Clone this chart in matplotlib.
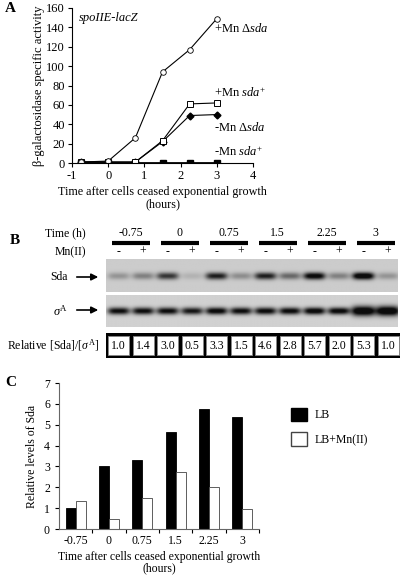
import numpy as np
import matplotlib
matplotlib.use("Agg")
import matplotlib.pyplot as plt
from matplotlib.patches import Rectangle, Patch

plt.rcParams["font.family"] = ["Liberation Serif", "DejaVu Serif"]
plt.rcParams["mathtext.fontset"] = "custom"
plt.rcParams["mathtext.rm"] = "Liberation Serif"
plt.rcParams["mathtext.it"] = "Liberation Serif:italic"
plt.rcParams["axes.unicode_minus"] = False
plt.rcParams["font.size"] = 8.5

# panel A data
time_a = [-0.75, 0, 0.75, 1.5, 2.25, 3]
mn_dsda = [1, 2, 26, 94, 117, 149]
mn_sda = [1, 1, 1, 23, 61, 62]
nomn_dsda = [1, 1, 1, 22, 49, 50]
nomn_sda = [0.5, 0.5, 0.5, 0.5, 0.5, 0.5]

# panel B data
times_b = ["-0.75", "0", "0.75", "1.5", "2.25", "3"]
mn_signs = ["-", "+"] * 6
rel_ratio = ["1.0", "1.4", "3.0", "0.5", "3.3", "1.5", "4.6", "2.8", "5.7", "2.0", "5.3", "1.0"]
sda_band = [0.22, 0.3, 0.6, 0.1, 0.7, 0.25, 0.7, 0.4, 0.85, 0.3, 0.95, 0.22]
sig_band = [0.8, 0.8, 0.8, 0.75, 0.85, 0.8, 0.82, 0.82, 0.88, 0.85, 1.0, 1.0]

# panel C data
cats_c = ["-0.75", "0", "0.75", "1.5", "2.25", "3"]
lb = [1.0, 3.0, 3.33, 4.65, 5.75, 5.35]
lb_mn = [1.35, 0.5, 1.47, 2.75, 2.0, 0.95]

W, H = 400, 576
fig = plt.figure(figsize=(4, 5.76), dpi=100)


def box(l, t, r, b):
    return [l / W, 1 - b / H, (r - l) / W, (b - t) / H]


# ---------- A ----------
ax = fig.add_axes(box(72, 8, 253, 163))
ax.plot(time_a, nomn_sda, "-s", color="k", lw=2, ms=4.5, mfc="k")
ax.plot(time_a, nomn_dsda, "-D", color="k", lw=0.8, ms=3.5, mfc="k")
ax.plot(time_a, mn_sda, "-s", color="k", lw=0.8, ms=5, mfc="white", mew=0.7)
ax.plot(time_a, mn_dsda, "-o", color="k", lw=0.8, ms=4, mfc="white", mew=0.6)
ax.set_xlim(-1, 4)
ax.set_ylim(0, 160)
ax.set_xticks(range(-1, 5))
ax.set_yticks(range(0, 161, 20))
for s in ["top", "right"]:
    ax.spines[s].set_visible(False)
ax.tick_params(length=3, width=0.8, labelsize=9, pad=2)
ax.set_ylabel("β-galactosidase specific activity", fontsize=9, labelpad=1)
ax.set_xlabel("Time after cells ceased exponential growth\n(hours)", fontsize=8.7,
              labelpad=3, linespacing=1.0)
ax.text(-0.8, 150, "spoIIE-lacZ", style="italic", fontsize=9, va="center")
ax.text(2.93, 139, "+Mn Δ$\\mathit{sda}$", fontsize=9, va="center")
ax.text(2.93, 72, "+Mn $\\mathit{sda}^{+}$", fontsize=9, va="center")
ax.text(2.93, 37, "-Mn Δ$\\mathit{sda}$", fontsize=9, va="center")
ax.text(2.93, 11, "-Mn $\\mathit{sda}^{+}$", fontsize=9, va="center")
fig.text(5 / W, 1 - 8 / H, "A", fontsize=11, fontweight="bold", va="center")

# ---------- B ----------
bx = fig.add_axes(box(0, 215, 400, 362))
bx.set_xlim(0, 400)
bx.set_ylim(362, 215)
bx.axis("off")
fig.text(10 / W, 1 - 240 / H, "B", fontsize=11, fontweight="bold", va="center")

lane_x = [118.5 + 24.5 * i for i in range(12)]
bx.text(86, 233, "Time (h)", ha="right", va="center", fontsize=8.5)
bx.text(86, 252, "Mn(II)", ha="right", va="center", fontsize=8.5)
for g, t in enumerate(times_b):
    cx = (lane_x[2 * g] + lane_x[2 * g + 1]) / 2
    bx.text(cx, 233, t, ha="center", va="center", fontsize=8.5)
    bx.plot([cx - 19, cx + 19], [243, 243], color="k", lw=3, solid_capstyle="butt")
for x, s in zip(lane_x, mn_signs):
    bx.text(x, 252, s, ha="center", va="center", fontsize=8.5)


def blot(top, bot, band_y, vals, wx, wy, bg, big=None):
    xs = np.linspace(106, 398, 600)
    ys = np.linspace(top, bot, 80)
    X, Y = np.meshgrid(xs, ys)
    img = np.full(X.shape, bg)
    for i, (x, v) in enumerate(zip(lane_x, vals)):
        sx, sy = wx, wy
        if big is not None and i >= 10:
            sx, sy = big
        img -= v * np.exp(-((X - x) / sx) ** 4 - ((Y - band_y) / sy) ** 2)
    img = np.clip(img, 0.05, 1)
    bx.imshow(img, cmap="gray", vmin=0, vmax=1, extent=[106, 398, bot, top],
              aspect="auto", interpolation="bilinear")


blot(259, 292, 276, sda_band, 11, 3.6, 0.80)
blot(295, 327, 311, sig_band, 11, 3.6, 0.82, big=(12, 5))
bx.set_xlim(0, 400)
bx.set_ylim(362, 215)

bx.text(68, 277, "Sda", ha="right", va="center", fontsize=8.5)
bx.annotate("", xy=(101, 277), xytext=(74, 277),
            arrowprops=dict(arrowstyle="-|>", color="k", lw=1.2, mutation_scale=10))
bx.text(68, 311, "$\\sigma^{\\mathrm{A}}$", ha="right", va="center", fontsize=9)
bx.annotate("", xy=(101, 310), xytext=(74, 310),
            arrowprops=dict(arrowstyle="-|>", color="k", lw=1.2, mutation_scale=10))

bx.text(7, 345, "Relative [Sda]/[$\\sigma^{\\mathrm{A}}$]", ha="left", va="center", fontsize=8.5)
bx.add_patch(Rectangle((106, 333), 294, 25, facecolor="k", edgecolor="none"))
for i, (x, r) in enumerate(zip(lane_x, rel_ratio)):
    bx.add_patch(Rectangle((x - 10.5, 336), 21, 19, facecolor="white",
                           edgecolor="#888888", lw=0.6))
    bx.text(x, 346, r, ha="center", va="center", fontsize=8.5)

# ---------- C ----------
cx_ax = fig.add_axes(box(59, 383, 259, 529))
pos = np.arange(len(cats_c))
cx_ax.bar(pos - 0.15, lb, width=0.3, color="k", edgecolor="k", lw=0.6, label="LB")
cx_ax.bar(pos + 0.15, lb_mn, width=0.3, color="white", edgecolor="#444444", lw=0.6,
          label="LB+Mn(II)")
cx_ax.set_xlim(-0.5, 5.5)
cx_ax.set_ylim(0, 7)
cx_ax.set_yticks(range(0, 8))
cx_ax.set_xticks(np.arange(0.5, 6, 1))
cx_ax.set_xticklabels([])
cx_ax.set_xticks(pos, minor=True)
cx_ax.set_xticklabels(cats_c, minor=True)
cx_ax.tick_params(axis="x", which="minor", length=0, pad=4)
cx_ax.tick_params(length=3, width=0.8, labelsize=8.5)
for s in ["top", "right"]:
    cx_ax.spines[s].set_visible(False)
cx_ax.spines["left"].set_color("#666666")
cx_ax.spines["bottom"].set_color("#666666")
cx_ax.set_ylabel("Relative levels of Sda", fontsize=8.5, labelpad=4)
cx_ax.set_xlabel("Time after cells ceased exponential growth\n(hours)", fontsize=8.5,
                 labelpad=3, linespacing=1.0)
fig.legend(handles=[Patch(facecolor="k", edgecolor="k", label="LB"),
                    Patch(facecolor="white", edgecolor="#444444", label="LB+Mn(II)")],
           loc="upper left", bbox_to_anchor=(286 / W, 1 - 403 / H), frameon=False,
           handlelength=1.4, handleheight=1.4, labelspacing=0.9, fontsize=8.5,
           borderaxespad=0, handletextpad=0.6)
fig.text(5 / W, 1 - 383 / H, "C", fontsize=11, fontweight="bold", va="center")

fig.savefig("out.png", dpi=100)
